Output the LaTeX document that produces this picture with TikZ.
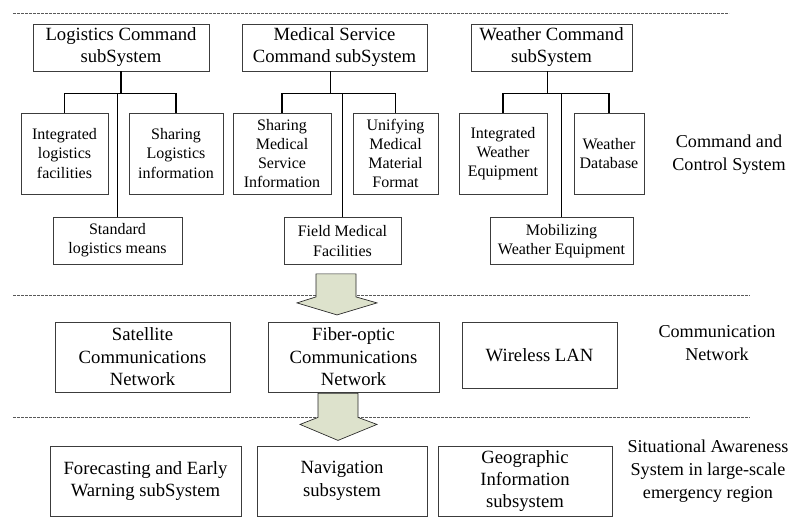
\documentclass[tikz,border=0pt]{standalone}
\usepackage{fontspec}
\setmainfont{Liberation Serif}
\usepackage{tikz}
\usetikzlibrary{calc}
\definecolor{arrowfill}{RGB}{221,226,204}
\definecolor{boxline}{RGB}{60,60,60}
\tikzstyle{titlebox} = [draw=boxline,line width=0.6pt,inner sep=0pt,minimum height=35.25pt,align=center,font=\fontsize{14}{16.5}\selectfont]
\tikzstyle{subbox} = [draw=boxline,line width=0.6pt,inner sep=0pt,minimum height=60.75pt,align=center,font=\fontsize{12}{14.3}\selectfont]
\tikzstyle{lowbox} = [draw=boxline,line width=0.6pt,inner sep=0pt,minimum height=35.25pt,align=center,font=\fontsize{12}{14.3}\selectfont]
\tikzstyle{layerbox} = [draw=boxline,line width=0.6pt,inner sep=0pt,minimum height=52.5pt,align=center,font=\fontsize{14}{16.8}\selectfont]
\tikzstyle{layerlabel} = [inner sep=0pt,align=center,font=\fontsize{13.6}{17.2}\selectfont]
\tikzstyle{link} = [line width=0.9pt]
\tikzstyle{divider} = [black!65,line width=0.5pt,dash pattern=on 2pt off 1pt]
\tikzstyle{bigarrow} = [draw=black!85,fill=arrowfill,line width=0.5pt,line join=miter]

\begin{document}
\begin{tikzpicture}[x=0.75pt,y=-0.75pt]
\useasboundingbox (0,0) rectangle (795,519);

\coordinate (LCS) at (121,47.5);
\coordinate (MCS) at (334.5,47.5);
\coordinate (WCS) at (551.5,47.5);
\coordinate (SAT) at (142.5,357);
\coordinate (FIB) at (353.5,357);
\coordinate (WLAN) at (539.5,355);
\coordinate (FEW) at (145.5,481);
\coordinate (NAV) at (342,481);
\coordinate (GIS) at (525,481);

\draw [divider] (13,13) -- (729,13);
\draw [divider] (13,295) -- (750,295);
\draw [divider] (13,417) -- (750,417);

\node [titlebox,minimum width=132pt]    (logcmd)   at (LCS) {Logistics Command\\subSystem};
\node [titlebox,minimum width=138.75pt] (medcmd)   at (MCS) {Medical Service\\Command subSystem};
\node [titlebox,minimum width=120.75pt] (wthcmd)   at (WCS) {Weather Command\\subSystem};

\node [subbox,minimum width=65.25pt] (logint)   at (64.5,153.5)  {Integrated\\logistics\\facilities};
\node [subbox,minimum width=70.5pt]  (logshare) at (176,153.5)   {Sharing\\Logistics\\information};
\node [subbox,minimum width=73.5pt]  (medshare) at (282,153.5)   {Sharing\\Medical\\Service\\Information};
\node [subbox,minimum width=63.75pt] (medunify) at (395.5,153.5) {Unifying\\Medical\\Material\\Format};
\node [subbox,minimum width=66pt]    (wthint)   at (503,153.5)   {Integrated\\Weather\\Equipment};
\node [subbox,minimum width=52.5pt]  (wthdb)    at (609,153.5)   {Weather\\Database};

\node [lowbox,minimum width=96.75pt]  (logstd)   at (117.5,240.5) {Standard\\logistics means};
\node [lowbox,minimum width=87.75pt]  (medfield) at (342.5,241)   {Field Medical\\Facilities};
\node [lowbox,minimum width=107.25pt] (wthmob)   at (561.5,241)   {Mobilizing\\Weather Equipment};

\node [layerlabel] (ccs) at (729,155) {Command and\\Control System};

\coordinate (logbus) at ($(logint.north)+(0,-19)$);
\coordinate (medbus) at ($(medshare.north)+(0,-19)$);
\coordinate (wthbus) at ($(wthint.north)+(0,-19)$);

\draw [link] (logint.north) |- (logbus) -| (logshare.north);
\draw [link] (logcmd.south) -- (logcmd.south |- logbus);
\draw [link] (logstd.north) -- (logstd.north |- logbus);

\draw [link] (medshare.north) |- (medbus) -| (medunify.north);
\draw [link] ($(medcmd.south)+(-4,0)$) -- ($(medcmd.south |- medbus)+(-4,0)$);
\draw [link] (medfield.north) -- (medfield.north |- medbus);

\draw [link] (wthint.north) |- (wthbus) -| (wthdb.north);
\draw [link] ($(wthcmd.south)+(-4,0)$) -- ($(wthcmd.south |- wthbus)+(-4,0)$);
\draw [link] (wthmob.north) -- (wthmob.north |- wthbus);

\node [layerbox,minimum width=131.25pt] (sat)  at (SAT)  {Satellite\\Communications\\Network};
\node [layerbox,minimum width=128.25pt] (fib)  at (FIB)  {Fiber-optic\\Communications\\Network};
\node [layerbox,minimum width=116.25pt,minimum height=49.5pt] (wlan) at (WLAN) {Wireless LAN};
\node [layerlabel] (cnet) at (717,343) {Communication\\Network};

\node [layerbox,minimum width=143.25pt] (few) at (FEW) {Forecasting and Early\\Warning subSystem};
\node [layerbox,minimum width=127.5pt]  (nav) at (NAV) {Navigation\\subsystem};
\node [layerbox,minimum width=130.5pt]  (gis) at (GIS) {Geographic\\Information\\subsystem};
\node [layerlabel] (sas) at (708,471) {Situational Awareness\\System in large-scale\\emergency region};

\coordinate (arrA) at ($(medfield.south)+(-26.5,9)$);
\coordinate (arrB) at ($(fib.south)+(-35.5,1)$);
\draw [bigarrow] (arrA) -- ++(40,0) -- ++(0,23) -- ++(21,6) -- ++(-40,12) -- ++(-40,-12) -- ++(19,-6) -- cycle;
\draw [bigarrow] (arrB) -- ++(40,0) -- ++(0,24) -- ++(19,7) -- ++(-39,16) -- ++(-38,-16) -- ++(18,-7) -- cycle;

\end{tikzpicture}
\end{document}
